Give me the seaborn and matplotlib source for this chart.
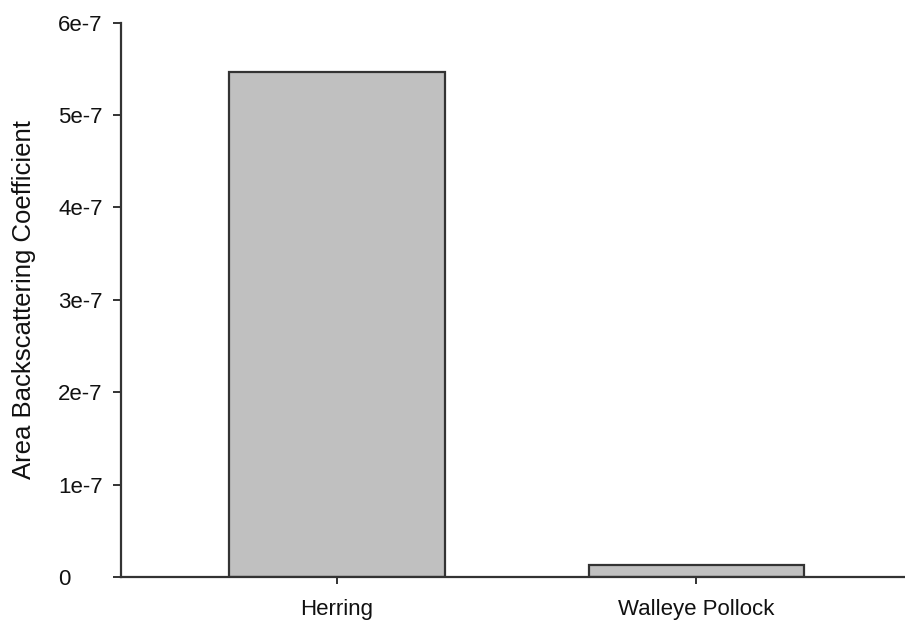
import matplotlib
matplotlib.use("Agg")
import matplotlib.pyplot as plt
import seaborn as sns
import pandas as pd

categories = ["Herring", "Walleye Pollock"]
values = [5.46e-7, 1.33e-8]
ytick_values = [0, 1e-7, 2e-7, 3e-7, 4e-7, 5e-7, 6e-7]
ytick_labels = ["0", "1e-7", "2e-7", "3e-7", "4e-7", "5e-7", "6e-7"]
ylabel = "Area Backscattering Coefficient"

sns.set_style("white")
plt.rcParams["font.family"] = ["Liberation Sans", "DejaVu Sans"]

df = pd.DataFrame({"category": categories, "value": values})

fig = plt.figure(figsize=(9.05, 6.22), dpi=100)
ax = fig.add_axes([121 / 905, 45 / 622, 1 - 121 / 905, (577 - 22.6) / 622])

sns.barplot(data=df, x="category", y="value", ax=ax, color="#C0C0C0",
            saturation=1, width=0.6, edgecolor="#333333", linewidth=1.6)

ax.set_xlim(-0.6, 1.58)
ax.set_ylim(0, 6e-7)
ax.set_yticks(ytick_values)
ax.set_yticklabels(ytick_labels, ha="left")
ax.set_xlabel("")
ax.set_ylabel(ylabel, fontsize=18.5, color="#111111", labelpad=16)

for s in ["top", "right"]:
    ax.spines[s].set_visible(False)
for s in ["left", "bottom"]:
    ax.spines[s].set_color("#333333")
    ax.spines[s].set_linewidth(1.6)

ax.tick_params(axis="y", direction="out", length=5.8, width=1.4, color="#333333",
               labelsize=16, labelcolor="#111111", pad=39.5, left=True)
ax.tick_params(axis="x", direction="out", length=5, width=1.4, color="#333333",
               labelsize=16, labelcolor="#111111", pad=11, bottom=True)

fig.savefig("out.png", dpi=100)
